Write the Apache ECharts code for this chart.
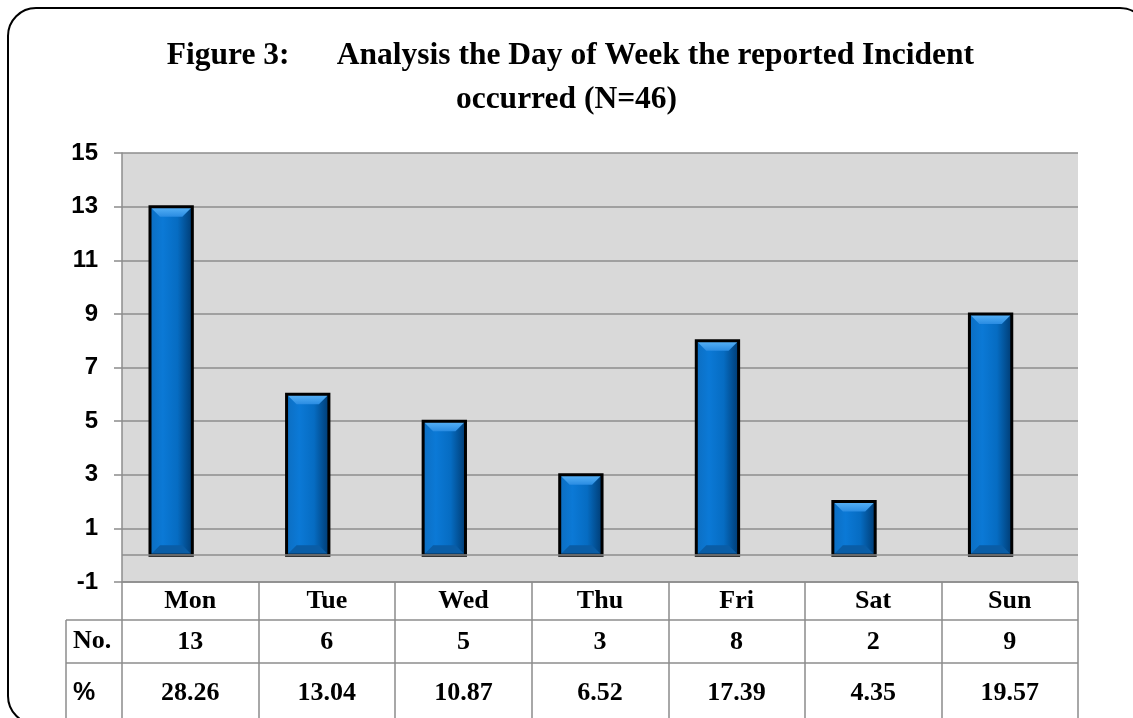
<!DOCTYPE html>
<html>
<head>
<meta charset="utf-8">
<script src="https://cdn.jsdelivr.net/npm/echarts@6/dist/echarts.min.js"></script>
<style>
  html, body { margin: 0; padding: 0; background: #fff; }
  #chart { width: 1133px; height: 718px; }
</style>
</head>
<body>
<div id="chart"></div>
<script>
  // data
  var days = ['Mon', 'Tue', 'Wed', 'Thu', 'Fri', 'Sat', 'Sun'];
  var counts = [13, 6, 5, 3, 8, 2, 9];
  var percents = ['28.26', '13.04', '10.87', '6.52', '17.39', '4.35', '19.57'];
  var rowNames = ['No.', '%'];

  var gridGray = '#8c8c8c';
  var serif = 'Liberation Serif, Times New Roman, serif';
  var sans = 'Liberation Sans, Arial, sans-serif';

  var myChart = echarts.init(document.getElementById('chart'));

  // bevelled blue bar, shifted left inside its column like the original
  function renderBar(params, api) {
    var cat = api.value(0);
    var top = api.coord([cat, api.value(1)]);
    var base = api.coord([cat, 0]);
    var band = api.size([1, 0])[0];
    var w = band * 0.31;
    var cx = top[0] - band * 0.14;
    var l = cx - w / 2, r = cx + w / 2, t = top[1], b = base[1];
    var e = Math.min(10, (b - t) / 3);
    return {
      type: 'group',
      children: [
        {
          type: 'rect',
          shape: { x: l, y: t, width: w, height: b - t },
          style: {
            fill: new echarts.graphic.LinearGradient(0, 0, 1, 0, [
              { offset: 0, color: '#0c6ec2' },
              { offset: 0.3, color: '#0b79d6' },
              { offset: 0.65, color: '#066cc2' },
              { offset: 1, color: '#003c74' }
            ])
          }
        },
        {
          type: 'polygon',
          shape: { points: [[l, t], [r, t], [r - e, t + e], [l + e, t + e]] },
          style: {
            fill: new echarts.graphic.LinearGradient(0, 0, 0, 1, [
              { offset: 0, color: '#5ab4f8' },
              { offset: 1, color: '#2a8ce2' }
            ])
          }
        },
        {
          type: 'polygon',
          shape: { points: [[l, b], [r, b], [r - e, b - e], [l + e, b - e]] },
          style: { fill: '#0a5da6' }
        },
        {
          type: 'rect',
          shape: { x: l, y: t, width: w, height: b - t },
          style: { fill: 'none', stroke: '#000', lineWidth: 3 }
        }
      ]
    };
  }

  myChart.setOption({
    backgroundColor: '#fff',
    animation: false,
    title: {
      text: '\u00a0Figure 3:\u00a0\u00a0\u00a0\u00a0\u00a0 Analysis the Day of Week the reported Incident\noccurred (N=46)',
      left: 'center',
      top: 29,
      textStyle: {
        fontFamily: serif,
        fontWeight: 'bold',
        fontSize: 31.5,
        lineHeight: 44,
        color: '#000'
      }
    },
    grid: {
      left: 122,
      right: 55,
      top: 153,
      bottom: 136,
      show: true,
      backgroundColor: '#d9d9d9',
      borderWidth: 0
    },
    xAxis: {
      type: 'category',
      data: days,
      axisLine: { onZero: false, lineStyle: { color: gridGray, width: 1.5 } },
      axisTick: { show: true, interval: 0, length: 140, lineStyle: { color: gridGray, width: 1.5 } },
      axisLabel: {
        interval: 0,
        margin: 0,
        formatter: function (val, idx) {
          return '{d|' + val + '}\n{n|' + counts[idx] + '}\n{p|' + percents[idx] + '}';
        },
        rich: {
          d: { fontFamily: serif, fontWeight: 'bold', fontSize: 26, lineHeight: 39, color: '#000' },
          n: { fontFamily: serif, fontWeight: 'bold', fontSize: 26, lineHeight: 43, color: '#000' },
          p: { fontFamily: serif, fontWeight: 'bold', fontSize: 26, lineHeight: 58, color: '#000' }
        }
      }
    },
    yAxis: {
      type: 'value',
      min: -1,
      max: 15,
      interval: 2,
      axisLine: { show: true, lineStyle: { color: gridGray, width: 1.5 } },
      axisTick: { show: true, length: 8, lineStyle: { color: gridGray, width: 1.5 } },
      axisLabel: {
        margin: 24,
        fontFamily: sans,
        fontWeight: 'bold',
        fontSize: 24,
        color: '#000'
      },
      splitLine: { show: true, lineStyle: { color: gridGray, width: 1.5 } }
    },
    series: [
      {
        type: 'custom',
        renderItem: renderBar,
        data: counts.map(function (v, i) { return [i, v]; }),
        markLine: {
          silent: true,
          symbol: 'none',
          label: { show: false },
          lineStyle: { color: gridGray, width: 1.5, type: 'solid' },
          data: [{ yAxis: 0 }]
        },
        z: 3
      }
    ],
    graphic: [
      {
        type: 'rect',
        shape: { x: 8, y: 8, width: 1140, height: 716, r: 28 },
        style: { fill: 'none', stroke: '#000', lineWidth: 2 },
        z: 100
      },
      // table frame to the left of the plot
      { type: 'line', shape: { x1: 66, y1: 620, x2: 1078, y2: 620 }, style: { stroke: gridGray, lineWidth: 1.5 } },
      { type: 'line', shape: { x1: 66, y1: 663, x2: 1078, y2: 663 }, style: { stroke: gridGray, lineWidth: 1.5 } },
      { type: 'line', shape: { x1: 66, y1: 620, x2: 66, y2: 720 }, style: { stroke: gridGray, lineWidth: 1.5 } },
      {
        type: 'text', left: 73, top: 628,
        style: { text: rowNames[0], font: 'bold 26px ' + serif, fill: '#000' }
      },
      {
        type: 'text', left: 73, top: 681,
        style: { text: rowNames[1], font: 'bold 25px ' + sans, fill: '#000' }
      }
    ]
  });
</script>
</body>
</html>
